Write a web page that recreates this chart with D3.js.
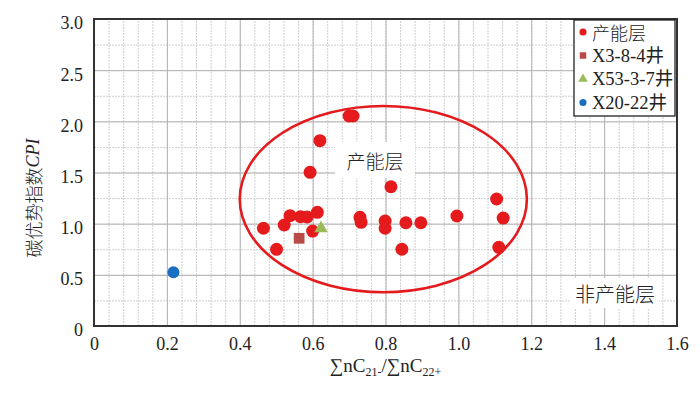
<html lang="zh">
<head>
  <meta charset="UTF-8"/>
  <title>CPI scatter</title>
  <script src="https://d3js.org/d3.v7.min.js"></script>
  <style>
    body { margin: 0; background: #fff; }
    .serif { font-family: "Liberation Serif", "DejaVu Serif", serif; font-weight: 400; }
    .cjk { font-family: "Noto Sans CJK SC", sans-serif; font-weight: 300; }
  </style>
</head>
<body>
<svg id="chart"></svg>
<script>
  // ---- data ----
  const seriesNames = ["产能层", "X3-8-4井", "X53-3-7井", "X20-22井"];

  const layerX = [0.465, 0.522, 0.501, 0.538, 0.567, 0.585, 0.613, 0.600, 0.593, 0.620,
                  0.700, 0.711, 0.730, 0.733, 0.799, 0.799, 0.815, 0.856, 0.845, 0.897,
                  0.996, 1.105, 1.123, 1.111];
  const layerY = [0.955, 0.987, 0.749, 1.078, 1.068, 1.065, 1.111, 0.928, 1.502, 1.811,
                  2.052, 2.052, 1.062, 1.013, 1.026, 0.955, 1.361, 1.009, 0.750, 1.009,
                  1.075, 1.241, 1.055, 0.769];
  const wellAX = [0.563], wellAY = [0.857];   // X3-8-4井
  const wellBX = [0.623], wellBY = [0.955];   // X53-3-7井
  const wellCX = [0.218], wellCY = [0.525];   // X20-22井

  // productive-layer ellipse (data units)
  const ellipseC = [0.794, 1.24];
  const ellipseR = [0.394, 0.91];

  const xTicks = [0, 0.2, 0.4, 0.6, 0.8, 1.0, 1.2, 1.4, 1.6];
  const yTicks = [0, 0.5, 1.0, 1.5, 2.0, 2.5, 3.0];
  const xMinor = d3.range(0, 1.6001, 0.04);
  const yMinor = d3.range(0, 3.0001, 0.25);

  const red = "#e41a1c", sqColor = "#b94a48", triColor = "#9bbb59", blue = "#1b6fc0";

  const W = 700, H = 398;
  const pL = 94, pR = 677, pT = 19, pB = 326;

  const svg = d3.select("#chart").attr("width", W).attr("height", H);

  const x = d3.scaleLinear().domain([0, 1.6]).range([pL, pR]);
  const y = d3.scaleLinear().domain([0, 3.0]).range([pB, pT]);

  // minor grid
  svg.append("g").attr("transform", "translate(0," + pB + ")")
    .call(d3.axisBottom(x).tickValues(xMinor).tickSize(-(pB - pT)).tickFormat(""))
    .call(g => g.select(".domain").remove())
    .selectAll("line").attr("stroke", "#cfcfcf").attr("stroke-dasharray", "2,1");
  svg.append("g").attr("transform", "translate(" + pL + ",0)")
    .call(d3.axisLeft(y).tickValues(yMinor).tickSize(-(pR - pL)).tickFormat(""))
    .call(g => g.select(".domain").remove())
    .selectAll("line").attr("stroke", "#cfcfcf").attr("stroke-dasharray", "2,1");

  // major grid
  svg.append("g").attr("transform", "translate(0," + pB + ")")
    .call(d3.axisBottom(x).tickValues(xTicks).tickSize(-(pB - pT)).tickFormat(""))
    .call(g => g.select(".domain").remove())
    .selectAll("line").attr("stroke", "#b4b4b4");
  svg.append("g").attr("transform", "translate(" + pL + ",0)")
    .call(d3.axisLeft(y).tickValues(yTicks).tickSize(-(pR - pL)).tickFormat(""))
    .call(g => g.select(".domain").remove())
    .selectAll("line").attr("stroke", "#b4b4b4");

  const fmt = d => d === 0 ? "0" : d.toFixed(1);

  // tick labels
  svg.append("g").attr("transform", "translate(0," + pB + ")")
    .call(d3.axisBottom(x).tickValues(xTicks).tickSize(0).tickPadding(11).tickFormat(fmt))
    .call(g => g.select(".domain").remove())
    .selectAll("text").attr("class", "serif").attr("font-size", 18).attr("fill", "#222");
  svg.append("g").attr("transform", "translate(" + pL + ",0)")
    .call(d3.axisLeft(y).tickValues(yTicks).tickSize(0).tickPadding(11).tickFormat(fmt))
    .call(g => g.select(".domain").remove())
    .selectAll("text").attr("class", "serif").attr("font-size", 18).attr("fill", "#222")
    .attr("dy", "0.55em");

  // text boxes inside the plot
  function boxLabel(cx, cy, txt, size, w, h) {
    svg.append("rect").attr("x", cx - w / 2).attr("y", cy - h / 2)
      .attr("width", w).attr("height", h).attr("fill", "#fff");
    svg.append("text").attr("class", "cjk").attr("x", cx).attr("y", cy)
      .attr("text-anchor", "middle").attr("dominant-baseline", "central")
      .attr("font-size", size).attr("fill", "#222").text(txt);
  }
  boxLabel(375, 160, "产能层", 19, 80, 36);
  boxLabel(615, 293, "非产能层", 20, 88, 30);

  // ellipse
  svg.append("ellipse")
    .attr("cx", x(ellipseC[0])).attr("cy", y(ellipseC[1]))
    .attr("rx", x(ellipseC[0] + ellipseR[0]) - x(ellipseC[0]))
    .attr("ry", y(ellipseC[1]) - y(ellipseC[1] + ellipseR[1]))
    .attr("fill", "none").attr("stroke", red).attr("stroke-width", 2.6);

  // points
  svg.append("g").selectAll("circle").data(layerX.map((v, i) => [v, layerY[i]]))
    .join("circle").attr("cx", d => x(d[0])).attr("cy", d => y(d[1]))
    .attr("r", 6.5).attr("fill", red);

  svg.append("g").selectAll("path").data(wellAX.map((v, i) => [v, wellAY[i]]))
    .join("path").attr("transform", d => "translate(" + x(d[0]) + "," + y(d[1]) + ")")
    .attr("d", d3.symbol(d3.symbolSquare, 115)).attr("fill", sqColor);

  svg.append("g").selectAll("path").data(wellBX.map((v, i) => [v, wellBY[i]]))
    .join("path").attr("transform", d => "translate(" + x(d[0]) + "," + y(d[1]) + ")")
    .attr("d", d3.symbol(d3.symbolTriangle, 80)).attr("fill", triColor);

  svg.append("g").selectAll("circle").data(wellCX.map((v, i) => [v, wellCY[i]]))
    .join("circle").attr("cx", d => x(d[0])).attr("cy", d => y(d[1]))
    .attr("r", 6).attr("fill", blue);

  // plot frame
  svg.append("rect").attr("x", pL).attr("y", pT)
    .attr("width", pR - pL).attr("height", pB - pT)
    .attr("fill", "none").attr("stroke", "#333").attr("stroke-width", 2);

  // legend
  const lg = svg.append("g").attr("transform", "translate(574,20)");
  lg.append("rect").attr("width", 101).attr("height", 96)
    .attr("fill", "#fff").attr("stroke", "#222").attr("stroke-width", 1.3);
  const symbols = [
    { type: d3.symbolCircle, size: 40, color: red },
    { type: d3.symbolSquare, size: 42, color: sqColor },
    { type: d3.symbolTriangle, size: 40, color: triColor },
    { type: d3.symbolCircle, size: 40, color: blue }
  ];
  seriesNames.forEach((name, i) => {
    const yy = 12 + i * 23.5;
    lg.append("path").attr("transform", "translate(9," + yy + ")")
      .attr("d", d3.symbol(symbols[i].type, symbols[i].size)).attr("fill", symbols[i].color);
    lg.append("text").attr("x", 18).attr("y", yy).attr("dominant-baseline", "central")
      .attr("font-size", i === 0 ? 18 : 18.5).attr("fill", "#222")
      .style("font-family", i === 0 ? "'Noto Sans CJK SC', sans-serif" : "'Liberation Serif', 'Noto Sans CJK SC', serif")
      .style("font-weight", i === 0 ? 300 : 400)
      .text(name);
  });

  // axis titles
  const xt = svg.append("text").attr("class", "serif").attr("x", (pL + pR) / 2).attr("y", 372)
    .attr("text-anchor", "middle").attr("font-size", 19).attr("fill", "#222");
  xt.append("tspan").text("∑nC");
  xt.append("tspan").attr("font-size", 12).attr("dy", 4).text("21-");
  xt.append("tspan").attr("dy", -4).text("/∑nC");
  xt.append("tspan").attr("font-size", 12).attr("dy", 4).text("22+");

  const yt = svg.append("text").attr("transform", "translate(33,198) rotate(-90)")
    .attr("text-anchor", "middle").attr("dominant-baseline", "central")
    .attr("font-size", 18).attr("fill", "#222");
  yt.append("tspan").attr("class", "cjk").text("碳优势指数");
  yt.append("tspan").attr("class", "serif").attr("font-style", "italic").text("CPI");
</script>
</body>
</html>
